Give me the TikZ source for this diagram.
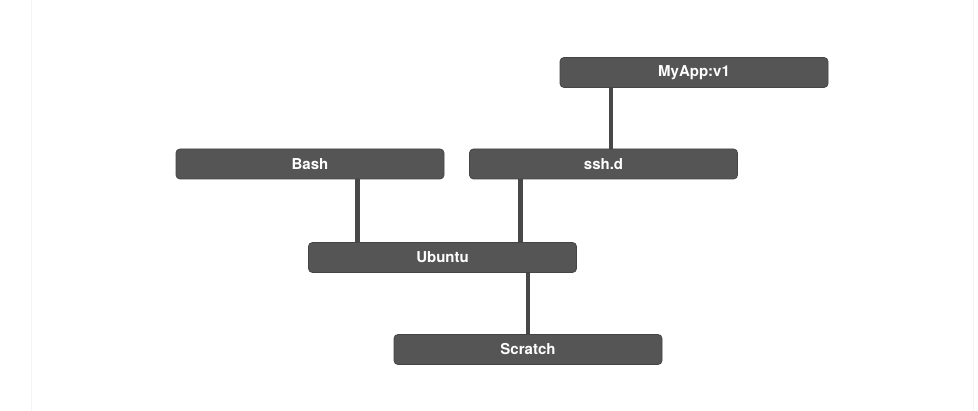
\documentclass[tikz,border=0pt]{standalone}
\usepackage{fontspec}
\setmainfont{TeX Gyre Heros}
\begin{document}
\begin{tikzpicture}[x=1pt,y=1pt,
  layerbox/.style={rectangle, rounded corners=4pt, fill=boxfill, draw=boxedge, line width=0.8pt,
    minimum width=268pt, minimum height=30pt, inner sep=0pt, text=white,
    font=\fontsize{15}{17}\selectfont\bfseries},
  link/.style={draw=linecol, line width=4.5pt}]
\definecolor{boxfill}{HTML}{555555}
\definecolor{boxedge}{HTML}{454545}
\definecolor{linecol}{HTML}{484848}
\definecolor{frame}{HTML}{F4F4F4}
\useasboundingbox (0,0) rectangle (978,411);
\fill[white] (0,0) rectangle (978,411);
\draw[frame, line width=1pt] (31,0) -- (31,411);
\draw[frame, line width=1pt] (973.5,0) -- (973.5,411);
% connector x positions
\coordinate (c1) at (357.5,0);
\coordinate (c2) at (520.5,0);
\coordinate (c3) at (611,0);
\coordinate (c4) at (528,0);
% nodes
\node[layerbox] (myapp) at (694,338.5) {MyApp:v1};
\node[layerbox] (bash) at (310,247) {Bash};
\node[layerbox] (sshd) at (603.5,247) {ssh.d};
\node[layerbox] (ubuntu) at (442.5,153.5) {Ubuntu};
\node[layerbox] (scratch) at (528,61.5) {Scratch};
% connectors
\draw[link] (myapp.south -| c3) -- (sshd.north -| c3);
\draw[link] (bash.south -| c1) -- (ubuntu.north -| c1);
\draw[link] (sshd.south -| c2) -- (ubuntu.north -| c2);
\draw[link] (ubuntu.south -| c4) -- (scratch.north -| c4);
\end{tikzpicture}
\end{document}
